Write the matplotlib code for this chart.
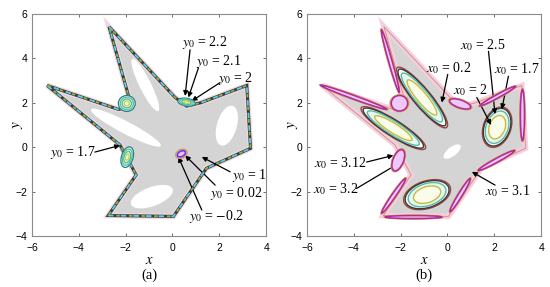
import matplotlib.pyplot as plt
from matplotlib.patches import Polygon, Ellipse

plt.rcParams['mathtext.fontset'] = 'stix'
plt.rcParams['font.family'] = 'Liberation Sans'

# outline of the star-shaped region (same in both panels)
region_x = [-2.71, 0.10, 0.60, 1.20, 3.17, 3.33, 1.45, 0.04, -2.74, -1.55, -2.24, -5.35, -2.30, -1.75]
region_y = [5.43, 2.25, 1.85, 2.00, 2.78, -0.05, -0.95, -3.12, -3.08, -1.25, 0.10, 2.78, 1.70, 1.85]

# panel (a): white holes inside the region
holes_a_x = [-1.99, -1.16, 2.32, -0.88]
holes_a_y = [0.88, 2.80, 0.97, -2.23]
holes_a_len = [3.40, 2.60, 1.85, 1.90]
holes_a_wid = [0.55, 0.50, 0.85, 0.85]
holes_a_ang = [-29, -65, 75, 22]

# panel (a): small nested orbits
rings_a_x = [-1.95, -1.93, 0.60]
rings_a_y = [1.97, -0.45, 2.03]
rings_a_len = [0.72, 0.95, 0.75]
rings_a_wid = [0.72, 0.50, 0.35]
rings_a_ang = [0, 75, -10]
ring_scale = [1.0, 0.78, 0.55, 0.30]
ring_colors_a = ['#2f7f7a', '#40c0c8', '#5fb87a', '#b8d850']

# panel (a): orbit near origin
center_x, center_y = 0.38, -0.30
center_len = [0.52, 0.38]
center_wid = [0.38, 0.24]
center_ang = 30

# panel (a) labels: text, text position, arrow start, arrow end
labels_a = [r'$y_0$ = 2.2', r'$y_0$ = 2.1', r'$y_0$ = 2', r'$y_0$ = 1.7',
            r'$y_0$ = 1', r'$y_0$ = 0.02', r'$y_0$ = $-$0.2']
text_a_x = [1.39, 1.96, 2.68, -4.26, 3.29, 2.72, 1.89]
text_a_y = [4.71, 3.87, 3.10, -0.26, -1.26, -2.08, -3.12]
arr_a_x0 = [0.75, 1.11, 2.03, -3.31, 2.46, 1.82, 1.25]
arr_a_y0 = [4.39, 3.58, 2.91, -0.22, -1.11, -1.71, -2.83]
arr_a_x1 = [0.54, 0.68, 0.82, -2.24, 1.25, 0.54, 0.25]
arr_a_y1 = [2.31, 2.24, 2.08, 0.08, -0.44, -0.37, -0.44]

# panel (b): nested closed orbits
orb_x = [-2.31, -1.09, 2.12, -0.87]
orb_y = [0.86, 2.24, 0.90, -2.14]
orb_len = [3.08, 3.20, 1.75, 1.95]
orb_wid = [0.68, 0.72, 1.10, 1.15]
orb_ang = [-34, -52, 72, 20]
orb_scale = [1.07, 1.0, 0.86, 0.62]
orb_edges = ['#a0453c', '#3a3a3a', '#5cb8a8', '#c8bc3c']
orb_faces = ['none', '#fafaf5', '#e6f6f1', '#fbfbea']

# panel (b): thin orbits along the edges
thin_x = [-2.44, -4.00, -2.05, 0.54, 2.14, 3.20, 2.09, 0.54, -1.45, -2.30, -2.10]
thin_y = [3.88, 2.25, 1.98, 1.95, 2.30, 1.45, -0.60, -2.16, -3.15, -2.19, -0.59]
thin_len = [2.93, 3.04, 0.70, 0.95, 1.75, 2.30, 1.78, 1.72, 2.43, 1.86, 1.00]
thin_wid = [0.15, 0.16, 0.70, 0.35, 0.15, 0.17, 0.17, 0.17, 0.13, 0.17, 0.45]
thin_ang = [-75, -21, 0, -20, 30, 90, 30, 60, 0, 57, 70]

# panel (b): small hole
hole_b = (0.20, -0.20, 0.90, 0.40, 40)

labels_b = [r'$x_0$ = 0.2', r'$x_0$ = 2.5', r'$x_0$ = 1.7', r'$x_0$ = 2',
            r'$x_0$ = 3.12', r'$x_0$ = 3.2', r'$x_0$ = 3.1']
text_b_x = [0.04, 1.49, 2.96, 0.97, -4.59, -4.76, 2.58]
text_b_y = [3.58, 4.62, 3.50, 2.58, -0.71, -1.90, -2.00]
arr_b_x0 = [0.01, 1.75, 2.60, 1.25, -3.45, -3.88, 2.03]
arr_b_y0 = [3.28, 4.32, 3.20, 2.24, -0.67, -1.86, -1.71]
arr_b_x1 = [-0.24, 2.03, 2.32, 1.86, -2.31, -2.10, 1.04]
arr_b_y1 = [2.01, 1.49, 1.71, 1.00, -0.37, -0.74, -1.11]


def setup_axes(ax, tag):
    ax.set_xlim(-6, 4)
    ax.set_ylim(-4, 6)
    ax.set_xticks([-6, -4, -2, 0, 2, 4])
    ax.set_yticks([-4, -2, 0, 2, 4, 6])
    ax.tick_params(direction='in', top=True, right=True, labelsize=7.5,
                   length=2.5, width=0.6, color='#555555')
    ax.tick_params(axis='x', pad=5)
    ax.tick_params(axis='y', pad=3)
    for s in ax.spines.values():
        s.set_color('#8a8a8a')
        s.set_linewidth(0.8)
    ax.set_xlabel('$x$', fontsize=10.5, va='center')
    ax.xaxis.set_label_coords(0.5, -0.108)
    ax.set_ylabel('$y$', fontsize=11, va='center')
    ax.yaxis.set_label_coords(-0.06, 0.5)
    ax.text(0.5, -0.178, tag, transform=ax.transAxes, ha='center', va='center',
            fontsize=10.5, family='Liberation Serif')


def add_labels(ax, labels, tx, ty, x0, y0, x1, y1):
    for i in range(len(labels)):
        ax.text(tx[i], ty[i], labels[i], ha='center', va='center', fontsize=10,
                family='Liberation Serif')
        ax.annotate('', xy=(x1[i], y1[i]), xytext=(x0[i], y0[i]),
                    arrowprops=dict(arrowstyle='-|>', color='black', lw=0.9,
                                    mutation_scale=7, shrinkA=0, shrinkB=0))


fig = plt.figure(figsize=(5.5, 2.87), dpi=100)
ax1 = fig.add_axes([0.058, 0.178, 0.426, 0.773])
ax2 = fig.add_axes([0.558, 0.178, 0.426, 0.773])

pts = list(zip(region_x, region_y))

# ---------- panel (a)
ax1.add_patch(Polygon(pts, closed=True, facecolor='#d4d4d4', edgecolor='#f4d6e0', lw=4, zorder=1))
for i in range(len(holes_a_x)):
    ax1.add_patch(Ellipse((holes_a_x[i], holes_a_y[i]), holes_a_len[i], holes_a_wid[i],
                          angle=holes_a_ang[i], facecolor='white', edgecolor='none', zorder=2))
ax1.add_patch(Polygon(pts, closed=True, fill=False, edgecolor='#3a3a3a', lw=2.2, zorder=3))
ax1.add_patch(Polygon(pts, closed=True, fill=False, edgecolor='#5ccfe0', lw=1.3,
                      linestyle=(0, (3, 4)), zorder=4))
ax1.add_patch(Polygon(pts, closed=True, fill=False, edgecolor='#7fb850', lw=1.3,
                      linestyle=(3.5, (2, 5)), zorder=4))
for i in range(len(rings_a_x)):
    for k in range(len(ring_scale)):
        ax1.add_patch(Ellipse((rings_a_x[i], rings_a_y[i]), rings_a_len[i] * ring_scale[k],
                              rings_a_wid[i] * ring_scale[k], angle=rings_a_ang[i],
                              facecolor='#eef6e6' if k == 0 else 'none',
                              edgecolor=ring_colors_a[k], lw=0.9, zorder=5))
ax1.add_patch(Ellipse((center_x, center_y), center_len[0], center_wid[0], angle=center_ang,
                      facecolor='white', edgecolor='#c89850', lw=0.9, zorder=5))
ax1.add_patch(Ellipse((center_x, center_y), center_len[1], center_wid[1], angle=center_ang,
                      facecolor='#d8c8f8', edgecolor='#7a2ee0', lw=1.2, zorder=5))
add_labels(ax1, labels_a, text_a_x, text_a_y, arr_a_x0, arr_a_y0, arr_a_x1, arr_a_y1)
setup_axes(ax1, '(a)')

# ---------- panel (b)
ax2.add_patch(Polygon(pts, closed=True, facecolor='#d4d4d4', edgecolor='#f6cfdc', lw=4, zorder=1))
ax2.add_patch(Polygon(pts, closed=True, fill=False, edgecolor='#c88a8a', lw=0.6, zorder=2))
ax2.add_patch(Ellipse(hole_b[:2], hole_b[2], hole_b[3], angle=hole_b[4],
                      facecolor='white', edgecolor='none', zorder=2))
for i in range(len(orb_x)):
    for k in range(len(orb_scale)):
        ax2.add_patch(Ellipse((orb_x[i], orb_y[i]), orb_len[i] * orb_scale[k],
                              orb_wid[i] * orb_scale[k], angle=orb_ang[i],
                              facecolor=orb_faces[k], edgecolor=orb_edges[k], lw=1.0, zorder=3))
for i in range(len(thin_x)):
    ax2.add_patch(Ellipse((thin_x[i], thin_y[i]), thin_len[i] + 0.12, thin_wid[i] + 0.08,
                          angle=thin_ang[i], facecolor='#e8b050', edgecolor='#d89a40',
                          lw=0.6, zorder=4))
    ax2.add_patch(Ellipse((thin_x[i], thin_y[i]), thin_len[i], thin_wid[i],
                          angle=thin_ang[i], facecolor='#eec8f6', edgecolor='#b02aa0',
                          lw=1.1, zorder=5))
add_labels(ax2, labels_b, text_b_x, text_b_y, arr_b_x0, arr_b_y0, arr_b_x1, arr_b_y1)
setup_axes(ax2, '(b)')

fig.savefig('out.png', dpi=100)
